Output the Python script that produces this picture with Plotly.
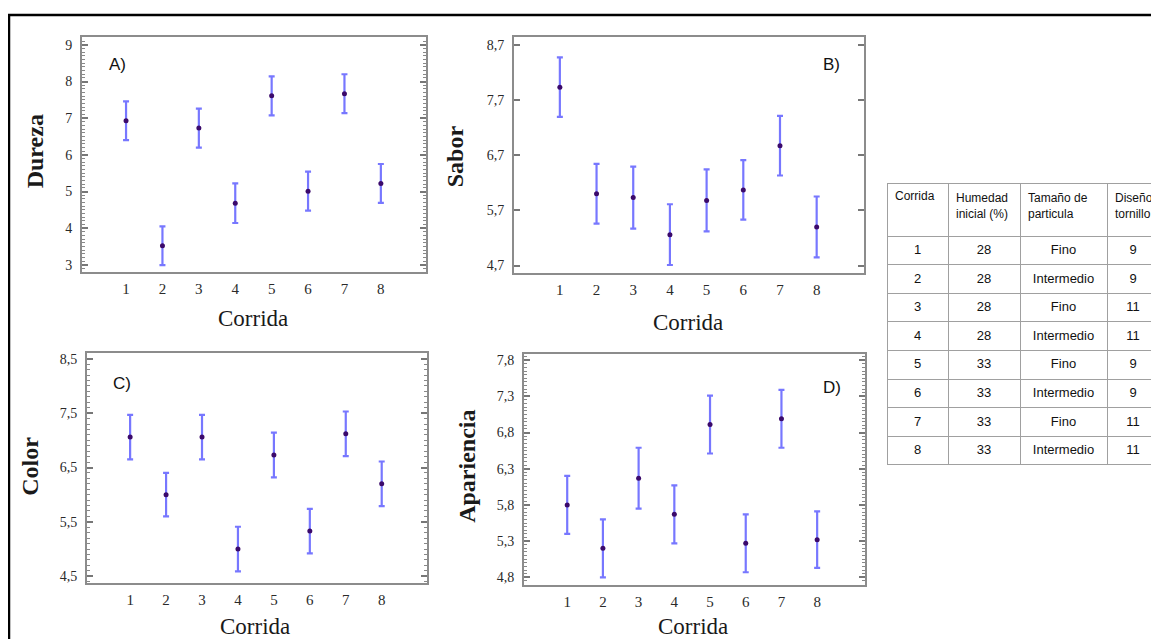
import plotly.graph_objects as go

# ---------------- data ----------------
corrida = [1, 2, 3, 4, 5, 6, 7, 8]

dureza_mean = [6.93, 3.52, 6.73, 4.68, 7.61, 5.01, 7.67, 5.22]
dureza_err = [0.53, 0.53, 0.53, 0.54, 0.53, 0.53, 0.53, 0.53]

sabor_mean = [7.93, 6.00, 5.93, 5.26, 5.88, 6.07, 6.87, 5.40]
sabor_err = [0.54, 0.54, 0.56, 0.55, 0.56, 0.54, 0.54, 0.55]

color_mean = [7.06, 6.00, 7.06, 5.00, 6.73, 5.33, 7.12, 6.20]
color_err = [0.41, 0.40, 0.41, 0.41, 0.41, 0.41, 0.41, 0.41]

apar_mean = [5.80, 5.20, 6.17, 5.67, 6.91, 5.27, 6.99, 5.32]
apar_err = [0.40, 0.40, 0.42, 0.40, 0.40, 0.40, 0.40, 0.39]

dureza_ticks = [3, 4, 5, 6, 7, 8, 9]
sabor_ticks = [4.7, 5.7, 6.7, 7.7, 8.7]
color_ticks = [4.5, 5.5, 6.5, 7.5, 8.5]
apar_ticks = [4.8, 5.3, 5.8, 6.3, 6.8, 7.3, 7.8]

tab_header = ["Corrida", "Humedad<br>inicial (%)", "Tamaño de<br>particula", "Diseño<br>tornillo"]
tab_corrida = ["1", "2", "3", "4", "5", "6", "7", "8"]
tab_humedad = ["28", "28", "28", "28", "33", "33", "33", "33"]
tab_tamano = ["Fino", "Intermedio", "Fino", "Intermedio", "Fino", "Intermedio", "Fino", "Intermedio"]
tab_diseno = ["9", "9", "11", "11", "9", "9", "11", "11"]

# ---------------- figure ----------------
# the page body has an 8px margin; the figure is sized to fill the rest of the window
OFF = 8
W, H = 1159 - OFF, 640 - OFF
def px(x):
    return (x - OFF) / W
def py(y):
    return 1 - (y - OFF) / H

fig = go.Figure()

panels = [
    dict(mean=dureza_mean, err=dureza_err, ticks=dureza_ticks, fmt="d",
         box=(82, 426, 35, 271), xr=[-0.21, 9.24], yr=[2.81, 9.22], minor=0.1,
         title="Dureza", tpos=(35, 150), xtpos=(253, 318), lab="A)", lpos=(107, 63)),
    dict(mean=sabor_mean, err=sabor_err, ticks=sabor_ticks, fmt=".1f",
         box=(514, 864, 35, 272), xr=[-0.25, 9.29], yr=[4.57, 8.84], minor=None,
         title="Sabor", tpos=(455, 155), xtpos=(688, 322), lab="B)", lpos=(821, 63)),
    dict(mean=color_mean, err=color_err, ticks=color_ticks, fmt=".1f",
         box=(87, 427, 353, 584), xr=[-0.2, 9.26], yr=[4.37, 8.6], minor=0.1,
         title="Color", tpos=(30, 467), xtpos=(255, 627), lab="C)", lpos=(111, 383)),
    dict(mean=apar_mean, err=apar_err, ticks=apar_ticks, fmt=".1f",
         box=(524, 865, 354, 586), xr=[-0.21, 9.34], yr=[4.69, 7.88], minor=0.05,
         title="Apariencia", tpos=(467, 467), xtpos=(693, 627), lab="D)", lpos=(821, 387)),
]

serif = "Liberation Serif, Times New Roman, serif"
annotations = []
for i, p in enumerate(panels, start=1):
    xa = "x" if i == 1 else f"x{i}"
    ya = "y" if i == 1 else f"y{i}"
    fig.add_trace(go.Scatter(
        x=corrida, y=p["mean"], mode="markers",
        marker=dict(size=5, color="#3b0a6b"),
        error_y=dict(type="data", array=p["err"], symmetric=True,
                     color="rgba(95,95,255,0.85)", thickness=2.2, width=3),
        xaxis=xa, yaxis=ya, showlegend=False, hoverinfo="skip"))
    x0, x1, y0, y1 = p["box"]
    xkey = "xaxis" if i == 1 else f"xaxis{i}"
    ykey = "yaxis" if i == 1 else f"yaxis{i}"
    xaxis = dict(domain=[px(x0), px(x1)], range=p["xr"], anchor=ya,
                 tickvals=corrida, ticks="", showgrid=False, zeroline=False,
                 showline=True, linecolor="#8c8c8c", linewidth=2, mirror=True,
                 tickfont=dict(family=serif, size=15, color="#2a2a2a"),
                 ticklabelstandoff=2)
    yaxis = dict(domain=[py(y1), py(y0)], range=p["yr"], anchor=xa,
                 tickvals=p["ticks"], tickformat=p["fmt"], ticks="inside",
                 ticklen=6, tickwidth=1.5, tickcolor="#777",
                 showgrid=False, zeroline=False,
                 showline=True, linecolor="#8c8c8c", linewidth=2, mirror="ticks",
                 tickfont=dict(family=serif, size=14, color="#2a2a2a"),
                 ticklabelstandoff=5)
    if p["minor"]:
        yaxis["minor"] = dict(dtick=p["minor"], ticks="inside", ticklen=3,
                              tickcolor="#888", tickwidth=1, showgrid=False)
    fig.update_layout({xkey: xaxis, ykey: yaxis})

    annotations.append(dict(x=px(p["tpos"][0]), y=py(p["tpos"][1]), xref="paper", yref="paper",
                            text=f"<b>{p['title']}</b>", textangle=-90, showarrow=False,
                            font=dict(family=serif, size=24, color="#1a1a1a"),
                            xanchor="center", yanchor="middle"))
    annotations.append(dict(x=px(p["xtpos"][0]), y=py(p["xtpos"][1]), xref="paper", yref="paper",
                            text="Corrida", showarrow=False,
                            font=dict(family=serif, size=23, color="#1a1a1a"),
                            xanchor="center", yanchor="middle"))
    annotations.append(dict(x=px(p["lpos"][0]), y=py(p["lpos"][1]), xref="paper", yref="paper",
                            text=p["lab"], showarrow=False,
                            font=dict(family="Liberation Sans, Arial, sans-serif", size=17, color="#111"),
                            xanchor="left", yanchor="middle"))

sans = "Liberation Sans, Arial, sans-serif"
fig.add_trace(go.Table(
    domain=dict(x=[px(887), 1.0], y=[py(472), py(182)]),
    columnwidth=[61, 72, 87, 52],
    header=dict(values=tab_header, align="left", height=53,
                fill_color="white", line=dict(color="#a0a0a0", width=1),
                font=dict(family=sans, size=12, color="#111")),
    cells=dict(values=[tab_corrida, tab_humedad, tab_tamano, tab_diseno],
               align="center", height=28.6,
               fill_color="white", line=dict(color="#a0a0a0", width=1),
               font=dict(family=sans, size=13, color="#111")),
))

shapes = [
    dict(type="line", xref="paper", yref="paper", x0=px(8), x1=1.0, y0=py(13), y1=py(13),
         line=dict(color="black", width=2.5)),
    dict(type="line", xref="paper", yref="paper", x0=px(9), x1=px(9), y0=py(12), y1=0,
         line=dict(color="black", width=2.5)),
]

fig.update_layout(width=W, height=H, margin=dict(l=0, r=0, t=0, b=0),
                  paper_bgcolor="white", plot_bgcolor="white",
                  separators=",.", annotations=annotations, shapes=shapes,
                  showlegend=False)

fig.write_html("out.html")
